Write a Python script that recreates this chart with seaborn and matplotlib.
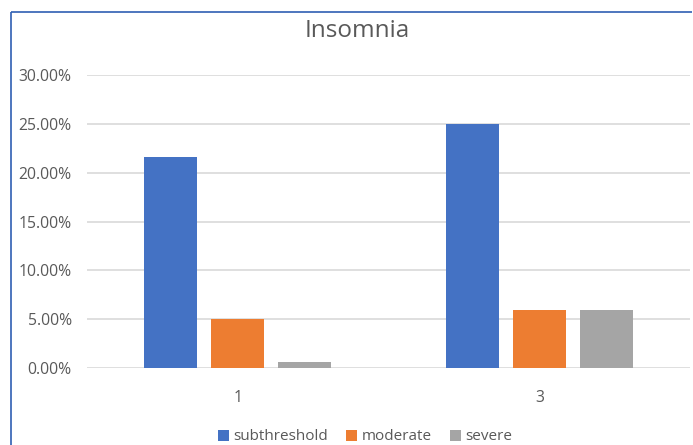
import matplotlib
matplotlib.use("Agg")
import matplotlib.pyplot as plt
from matplotlib.patches import Patch
from matplotlib.lines import Line2D
from matplotlib.ticker import PercentFormatter, MultipleLocator
import seaborn as sns
import pandas as pd

# Insomnia severity shares by group
groups = ["1", "3"]
subthreshold = [21.6, 25.0]
moderate = [5.0, 5.9]
severe = [0.6, 5.9]

series_names = ["subthreshold", "moderate", "severe"]
colors = ["#4472C4", "#ED7D31", "#A5A5A5"]

df = pd.DataFrame({
    "group": groups * 3,
    "level": [s for s in series_names for _ in groups],
    "value": subthreshold + moderate + severe,
})

sns.set_theme(style="white")
plt.rcParams["font.family"] = ["Open Sans", "DejaVu Sans"]

W, H = 693, 445
fig = plt.figure(figsize=(W / 100, H / 100), dpi=100)
ax = fig.add_axes([87 / W, 77 / H, (690 - 87) / W, (368 - 75) / H])

sns.barplot(data=df, x="group", y="value", hue="level", order=groups,
            hue_order=series_names, palette=colors, width=0.667, gap=0.21,
            saturation=1, legend=False, ax=ax, linewidth=0)

ax.set_xlim(-0.5, 1.5)
ax.set_ylim(0, 30)
ax.yaxis.set_major_locator(MultipleLocator(5))
ax.yaxis.set_major_formatter(PercentFormatter(decimals=2))
ax.grid(axis="y", color="#D9D9D9", linewidth=1.2)
ax.set_axisbelow(True)
for s in ax.spines.values():
    s.set_visible(False)
ax.tick_params(axis="both", length=0, labelsize=11.3, labelcolor="#595959")
ax.tick_params(axis="y", pad=11)
ax.tick_params(axis="x", pad=16)
ax.set_xlabel("")
ax.set_ylabel("")

fig.text(357 / W, 1 - 31 / H, "Insomnia", ha="center", va="center",
         fontsize=17.5, color="#595959")

handles = [Patch(facecolor=c, edgecolor="none") for c in colors]
fig.legend(handles, series_names, loc="center", bbox_to_anchor=(365 / W, 1 - 437 / H),
           ncol=3, frameon=False, fontsize=11, labelcolor="#595959",
           handlelength=0.7, handleheight=0.7, handletextpad=0.3, columnspacing=1.2)

# Outer chart frame (left and top edges only)
frame_c = "#2F5FB3"
fig.add_artist(Line2D([10.5 / W, 10.5 / W], [0, 1 - 12 / H], color=frame_c, linewidth=1.2,
                      solid_capstyle="butt", transform=fig.transFigure))
fig.add_artist(Line2D([10.5 / W, (W - 1) / W], [1 - 12 / H, 1 - 12 / H], color=frame_c,
                      linewidth=1.2, solid_capstyle="butt", transform=fig.transFigure))

fig.savefig("out.png", dpi=100, facecolor="white")
